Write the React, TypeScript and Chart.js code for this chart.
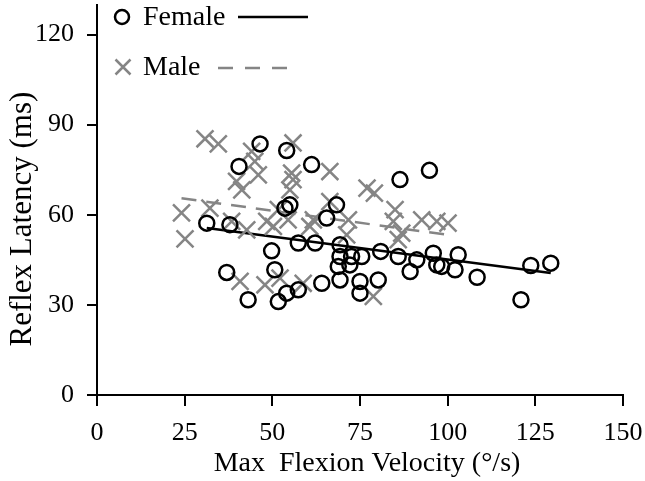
import React, { useEffect, useRef } from "react";
import { Chart, registerables } from "chart.js";

Chart.register(...registerables);

// Female data (Max Flexion Velocity °/s, Reflex Latency ms)
const femaleX = [46.5, 40.5, 31.3, 37.9, 54.1, 61.2, 55.0, 53.6, 68.3, 65.5, 49.8, 50.7, 57.4, 62.2, 69.3, 69.3, 72.6, 75.5, 68.8, 72.1, 69.3, 64.1, 75.0, 75.0, 57.4, 54.1, 51.7, 37.0, 43.1, 86.4, 94.8, 80.9, 85.9, 91.2, 89.3, 95.9, 96.9, 103.0, 102.1, 80.2, 98.3, 108.4, 123.7, 129.4, 120.9];
const femaleY = [83.6, 76.1, 57.2, 56.7, 81.4, 76.7, 63.3, 62.2, 63.3, 58.9, 48.0, 41.7, 50.6, 50.6, 50.0, 46.1, 46.1, 46.1, 42.8, 43.3, 38.3, 37.2, 37.8, 33.9, 35.0, 33.9, 31.1, 40.8, 31.7, 71.7, 74.8, 47.8, 46.1, 45.0, 41.1, 47.2, 43.3, 46.7, 41.7, 38.3, 42.8, 39.2, 43.1, 43.9, 31.7];

// Male data
const maleX = [30.8, 34.6, 44.1, 45.0, 46.0, 39.8, 41.3, 24.1, 32.2, 38.4, 42.7, 48.4, 25.1, 40.8, 47.9, 55.9, 66.4, 55.5, 55.9, 55.0, 77.0, 79.1, 51.7, 61.7, 66.4, 71.7, 60.7, 85.0, 84.5, 92.6, 96.9, 100.1, 86.9, 85.9, 78.8, 52.2, 58.8, 54.5, 50.3, 71.2];
const maleY = [85.3, 83.6, 81.1, 77.8, 73.3, 71.1, 68.3, 60.6, 62.2, 57.8, 55.0, 57.8, 52.0, 37.8, 36.7, 83.9, 74.4, 73.9, 71.7, 68.3, 68.9, 67.2, 61.7, 58.3, 64.4, 58.3, 56.1, 61.7, 57.8, 58.3, 57.8, 57.2, 53.9, 51.7, 32.8, 38.9, 37.2, 58.3, 56.1, 53.3];

// Regression lines (end points)
const femaleFitX = [31.3, 129.4];
const femaleFitY = [55.6, 40.6];
const maleFitX = [24.1, 100.1];
const maleFitY = [65.5, 53.3];

const xTicks = [0, 25, 50, 75, 100, 125, 150];
const yTicks = [0, 30, 60, 90, 120];
const legendLabels = ["Female", "Male"];

const FONT = '"Liberation Serif", "Times New Roman", serif';
const GRAY = "#858585";
const W = 645;
const H = 481;
const TARGET_TOP = 5;

const toPts = (xs: number[], ys: number[]) => xs.map((x, i) => ({ x, y: ys[i] }));

const legendPlugin = {
  id: "customLegend",
  afterDraw(chart: any) {
    const ctx = chart.ctx;
    const d = (chart as any).$shift || 0;
    ctx.save();
    ctx.translate(0, d);
    ctx.font = `28px ${FONT}`;
    ctx.textBaseline = "middle";
    ctx.fillStyle = "#000";
    // Female
    ctx.lineWidth = 2.5;
    ctx.strokeStyle = "#000";
    ctx.beginPath();
    ctx.arc(122, 17, 7, 0, Math.PI * 2);
    ctx.stroke();
    ctx.fillText(legendLabels[0], 143, 18);
    ctx.beginPath();
    ctx.moveTo(238, 17);
    ctx.lineTo(308, 17);
    ctx.stroke();
    // Male
    ctx.strokeStyle = GRAY;
    const cx = 123, cy = 67, r = 7.5;
    ctx.beginPath();
    ctx.moveTo(cx - r, cy - r);
    ctx.lineTo(cx + r, cy + r);
    ctx.moveTo(cx + r, cy - r);
    ctx.lineTo(cx - r, cy + r);
    ctx.stroke();
    ctx.fillText(legendLabels[1], 143, 68);
    ctx.setLineDash([15, 12]);
    ctx.beginPath();
    ctx.moveTo(218, 68);
    ctx.lineTo(290, 68);
    ctx.stroke();
    ctx.restore();
  },
};

function makeConfig(): any {
  return {
    type: "scatter",
    data: {
      datasets: [
        {
          label: "Female",
          data: toPts(femaleX, femaleY),
          pointStyle: "circle",
          pointRadius: 7.5,
          pointBorderWidth: 2.5,
          borderColor: "#000",
          backgroundColor: "rgba(0,0,0,0)",
        },
        {
          label: "Male",
          data: toPts(maleX, maleY),
          pointStyle: "crossRot",
          pointRadius: 12,
          pointBorderWidth: 2.5,
          borderColor: GRAY,
          backgroundColor: GRAY,
        },
        {
          type: "line",
          label: "Female fit",
          data: toPts(femaleFitX, femaleFitY),
          showLine: true,
          pointRadius: 0,
          borderColor: "#000",
          borderWidth: 2.5,
          fill: false,
        },
        {
          type: "line",
          label: "Male fit",
          data: toPts(maleFitX, maleFitY),
          showLine: true,
          pointRadius: 0,
          borderColor: GRAY,
          borderWidth: 2.5,
          borderDash: [15, 10],
          fill: false,
        },
      ],
    },
    options: {
      responsive: false,
      animation: false,
      layout: { padding: { top: 0, right: 22, left: 0, bottom: 0 } },
      plugins: { legend: { display: false }, tooltip: { enabled: false } },
      scales: {
        x: {
          type: "linear",
          min: 0,
          max: 150,
          afterBuildTicks: (s: any) => { s.ticks = xTicks.map((v) => ({ value: v })); },
          afterFit: (s: any) => { s.height = 86; s.paddingLeft = 0; s.paddingRight = 0; },
          ticks: { color: "#000", font: { family: FONT, size: 26 }, padding: 12, maxRotation: 0 },
          grid: { drawOnChartArea: false, drawTicks: true, tickLength: 11, color: "#000", lineWidth: 2 },
          border: { color: "#000", width: 2 },
          title: { display: true, text: "  Max  Flexion Velocity (°/s)", color: "#000", font: { family: FONT, size: 28 }, padding: { top: 0, bottom: 1 } },
        },
        y: {
          type: "linear",
          min: 0,
          max: 130,
          afterBuildTicks: (s: any) => { s.ticks = yTicks.map((v) => ({ value: v })); },
          afterFit: (s: any) => { s.width = 97; s.paddingTop = 0; s.paddingBottom = 0; },
          ticks: { color: "#000", font: { family: FONT, size: 26 }, padding: 13 },
          grid: { drawOnChartArea: false, drawTicks: true, tickLength: 10, color: "#000", lineWidth: 2 },
          border: { color: "#000", width: 2 },
          title: { display: true, text: "Reflex Latency (ms)     ", color: "#000", font: { family: FONT, size: 31 }, padding: { top: 4, bottom: 0 } },
        },
      },
    },
    plugins: [legendPlugin],
  };
}

export default function App() {
  const ref = useRef<HTMLCanvasElement>(null);
  useEffect(() => {
    document.body.style.margin = "0";
    const canvas = ref.current as HTMLCanvasElement;
    canvas.width = W;
    canvas.height = H;
    let chart = new Chart(canvas, makeConfig());
    const d = Math.round(chart.chartArea.top - TARGET_TOP);
    if (d > 0) {
      chart.destroy();
      canvas.width = W;
      canvas.height = H + d;
      canvas.style.width = `${W}px`;
      canvas.style.height = `${H + d}px`;
      canvas.style.marginTop = `${-d}px`;
      chart = new Chart(canvas, makeConfig());
      (chart as any).$shift = d;
      chart.draw();
    }
    return () => chart.destroy();
  }, []);
  return (
    <div style={{ width: W, height: H, overflow: "hidden" }}>
      <canvas ref={ref} width={W} height={H} style={{ display: "block" }} />
    </div>
  );
}
